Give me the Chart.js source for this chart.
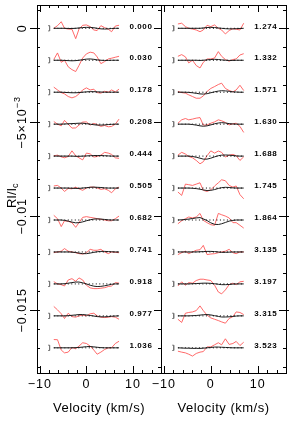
<!DOCTYPE html>
<html>
<head>
<meta charset="utf-8">
<script src="https://cdn.jsdelivr.net/npm/chart.js@4/dist/chart.umd.min.js"></script>
<style>
    html, body { margin: 0; padding: 0; background: #fff; }
    #wrap { position: relative; width: 294px; height: 424px; }
    canvas { position: absolute; left: 0; top: 0; }
</style>
</head>
<body>
<div id="wrap">
    <canvas id="leftChart" width="294" height="424"></canvas>
    <canvas id="rightChart" width="294" height="424"></canvas>
</div>
<script>
// velocity grid of the profiles (km/s)
const velocity = [-7.0, -6.2, -5.4, -4.7, -3.9, -3.1, -2.3, -1.6, -0.8, 0, 0.8, 1.6, 2.3, 3.1, 3.9, 4.7, 5.4, 6.2, 7.0];

// rotational phases, top to bottom
const phasesLeft = ['0.000', '0.030', '0.178', '0.208', '0.444', '0.505', '0.682', '0.741', '0.918', '0.977', '1.036'];
const phasesRight = ['1.274', '1.332', '1.571', '1.630', '1.688', '1.745', '1.864', '3.135', '3.197', '3.315', '3.523'];

const shift = 0.0017;      // vertical shift between profiles
const errorBar = 1.4;      // half size of the error bar (1e-4)

// observed profiles, relative to their own zero level (units of 1e-4)
const obsLeft = [
    [0, 1.4, 3.5, 0, -0.4, -0.5, -5.5, -0.5, 1.6, 1.8, 0.9, -0.9, -1.2, 1.4, 0.4, -0.5, -1.8, 1.2, 1.6],
    [0.4, 3.9, -1.1, 0, -3.5, -5, -6, -2.8, 1.2, 3.4, 4.3, 3.9, 1.8, -1.8, -0.7, 0.7, 1.1, 1.6, 2.1],
    [2.7, 1.2, -0.2, -0.9, -2.3, -3.0, -2.3, -0.9, 1.2, 2.3, 1.2, 1.6, -0.2, -0.5, 0.5, 0, 1.2, 0.2, 1.6],
    [1.4, 0, -0.9, 2.0, 0, -2.1, -2.0, -0.5, 1.1, 1.2, -0.5, 0.4, -0.2, -1.2, -0.7, -1.4, -1.2, 0, 2.7],
    [0.2, 0.5, -0.4, -0.9, -0.2, 2.8, 0.2, -0.9, -2.0, 1.6, 1.2, -0.5, -0.2, 0.5, 2.0, 1.6, 0.9, -0.9, -1.2],
    [1.1, 1.4, 0, -1.8, -0.2, -0.4, 0.5, -0.4, -1.2, 0, 0.5, 0.5, 0, -0.7, -0.4, -1.2, -2.5, -0.4, 0.5],
    [2.5, 0.7, -3.5, -0.4, -0.7, -1.4, -3.9, -1.4, 1.4, 1.8, 1.4, 1.1, 0.7, 0.4, 0, -0.4, -0.4, 0.7, 2.1],
    [-0.4, 0, 0.4, 1.8, 0.4, 0, -0.4, -0.9, -1.1, -0.4, 1.4, 0.9, 0.9, 1.4, 0, -0.9, 0, -0.2, -0.4],
    [1.2, 0, -0.4, -1.1, 2.1, 2.8, 1.4, 3.2, 2.1, -0.7, -2.1, -2.5, -2.5, -2.3, -2.0, -1.4, -1.1, 0.7, 0.4],
    [5.0, 3.2, 1.1, -1.4, 1.4, -0.4, -0.7, 0, 0.4, 0, 1.1, 1.4, 0, -0.7, -0.9, -0.7, -0.4, -0.7, -1.8],
    [4.4, 4.3, -1.2, -2.7, -2.3, 0.2, -0.5, 0.9, 2.7, 2.3, 0.9, -1.2, -3.4, -2.3, -0.9, 0, 0, 2.3, 3.5]
];
const obsRight = [
    [2.3, 2.7, 0.9, 0, -0.4, -0.9, -1.8, -0.9, 1.6, 0.9, 1.8, 0, -0.9, -3.0, -1.2, -0.2, -0.5, -0.9, 2.7],
    [2.1, 3.0, 1.8, -1.4, 0, -2.8, -4.1, -1.1, 0.7, 0.7, 1.2, 4.6, 2.1, 0.4, -0.5, 0.4, 0.7, 2.8, 3.5],
    [0.4, -0.2, -0.5, -1.4, -2.3, -3.2, -3.2, -2.0, 0.4, 2.0, 3.0, 4.1, 4.8, 2.0, 0.9, 0.2, 1.2, 3.7, 0.9],
    [0.5, 2.3, 3.0, 2.3, 2.7, 3.2, 3.5, -0.5, -0.4, 0.5, 1.2, 2.3, 1.8, 0.9, -0.4, 0.2, 0.5, -1.2, -4.4],
    [0.5, 2.0, 1.1, -0.2, -0.9, -2.3, -4.1, -3.0, 0.2, 2.8, 1.6, 2.7, 2.0, -0.5, 0.5, 0.9, 0.2, -2.3, -0.4],
    [-2.1, -3.9, 2.1, 1.8, 1.4, 2.1, 2.8, -1.2, -1.8, -0.9, 1.1, 2.8, 4.4, 3.9, 1.4, 0.5, 1.1, -3.5, -5.7],
    [-2.0, -0.4, 0.7, 1.6, 1.1, 1.6, 3.5, -0.2, -1.4, -2.5, -2.8, 3.5, 2.8, 2.1, 1.1, -1.4, -1.4, -2.8, -4.3],
    [-1.4, -0.4, 0.4, -0.9, 0, 0.9, 1.2, 3.5, -1.4, -1.1, -0.9, -0.4, 0, 0.4, 1.4, -0.4, -0.9, 0, 0],
    [-1.1, 1.1, -0.7, 0.7, 0.4, 1.8, 2.5, 2.5, 2.1, 1.8, -0.7, -4.3, -5.3, -3.2, -0.4, 0.4, -0.4, 1.1, 1.4],
    [-1.8, -3.5, 1.4, 1.8, 2.1, 2.8, 5.3, 2.8, 0.4, -1.1, -1.8, -2.5, -3.2, -3.9, -1.4, -0.4, 2.1, 1.8, 0.7],
    [-1.8, -2.3, -2.7, -3.4, -4.4, -3.0, -2.3, -2.0, 0.5, 0.5, 1.6, 2.7, 1.6, 4.8, 1.8, 2.3, 3.4, 1.2, 3.0]
];

// model profiles (units of 1e-4)
const modelLeft = [
    [0, 0, 0, 0, -0.1, -0.1, 0, 0.2, 0.4, 0.5, 0.5, 0.3, 0, -0.3, -0.4, -0.3, -0.1, 0, 0],
    [0, 0, 0, -0.1, -0.2, -0.3, -0.2, 0, 0.3, 0.6, 0.7, 0.5, 0.2, 0, -0.1, -0.1, 0, 0, 0],
    [0, 0, 0, -0.1, -0.2, -0.3, -0.3, -0.2, 0, 0.2, 0.3, 0.3, 0.2, 0.1, 0, 0, 0, 0, 0],
    [0, 0, 0, 0.1, 0.2, 0.3, 0.4, 0.5, 0.5, 0.3, 0, -0.3, -0.5, -0.5, -0.4, -0.2, -0.1, 0, 0],
    [0, 0, 0, 0, 0, 0, -0.1, -0.1, 0, 0.1, 0.2, 0.3, 0.3, 0.3, 0.2, 0.1, 0, 0, 0],
    [0, 0, 0, 0, 0, -0.1, -0.2, -0.2, 0, 0.2, 0.4, 0.5, 0.4, 0.3, 0.1, 0, 0, 0, 0],
    [0, 0, 0, -0.2, -0.6, -1.1, -1.5, -1.4, -1.0, -0.4, 0.1, 0.5, 0.6, 0.5, 0.3, 0.1, 0, 0, 0],
    [0, 0, 0, 0, 0, -0.1, -0.3, -0.6, -0.9, -0.9, -0.6, -0.2, 0.1, 0.3, 0.3, 0.2, 0.1, 0, 0],
    [0, 0, 0, 0.1, 0.4, 0.7, 1.0, 1.0, 0.6, 0, -0.7, -1.2, -1.4, -1.3, -1.0, -0.6, -0.2, 0, 0],
    [0, 0, 0, 0, 0.1, 0.3, 0.5, 0.7, 0.7, 0.5, 0.2, -0.1, -0.4, -0.5, -0.5, -0.4, -0.2, -0.1, 0],
    [0, 0, 0, 0, 0, 0, 0.1, 0.2, 0.4, 0.6, 0.7, 0.5, 0.3, 0.1, 0, 0, 0, 0, 0]
];
const modelRight = [
    [0, 0, 0, 0, 0, 0, 0, 0.2, 0.4, 0.5, 0.4, 0.2, 0, -0.2, -0.3, -0.3, -0.2, -0.1, 0],
    [0, 0, 0, 0, 0, 0, -0.1, 0, 0.2, 0.4, 0.5, 0.4, 0.2, 0, -0.1, -0.1, 0, 0, 0],
    [0, 0, 0, -0.1, -0.3, -0.6, -0.9, -1.0, -0.8, -0.3, 0.2, 0.6, 0.8, 0.7, 0.5, 0.2, 0.1, 0, 0],
    [0, 0, 0, 0, -0.2, -0.5, -0.9, -1.1, -0.9, -0.4, 0.2, 0.6, 0.8, 0.6, 0.3, 0.1, 0, 0, 0],
    [0, 0, 0, 0, -0.2, -0.6, -1.1, -1.6, -1.6, -1.1, -0.4, 0.2, 0.5, 0.6, 0.5, 0.3, 0.1, 0, 0],
    [0, 0, 0, 0, -0.1, -0.3, -0.6, -1.0, -1.3, -1.2, -0.8, -0.2, 0.2, 0.4, 0.3, 0.1, 0, 0, 0],
    [0, 0.1, 0.3, 0.5, 0.8, 1.1, 1.3, 0.6, -0.3, -1.5, -2.3, -2.4, -2.0, -1.3, -0.6, -0.2, 0, 0, 0],
    [0, 0, 0, 0, 0, 0, 0.1, 0.2, 0.3, 0.3, 0.2, 0, -0.2, -0.2, -0.1, 0, 0, 0, 0],
    [0, 0, 0, 0, 0.1, 0.2, 0.3, 0.4, 0.4, 0.3, 0.1, -0.2, -0.4, -0.4, -0.3, -0.1, 0, 0, 0],
    [0, 0, 0, 0, 0.1, 0.2, 0.4, 0.6, 0.7, 0.5, 0.1, -0.3, -0.6, -0.6, -0.5, -0.3, -0.1, 0, 0],
    [0, -0.1, -0.2, -0.2, -0.3, -0.3, -0.3, -0.2, 0, 0.2, 0.4, 0.4, 0.3, 0.2, 0.1, 0, 0, 0, 0]
];

const xTicks = [-10, 0, 10];
const xTickLabels = ['\u221210', '0', '10'];
const yTicks = [0, -0.005, -0.01, -0.015];
const yTickLabels = ['0', '\u22125\u00d710', '\u22120.01', '\u22120.015'];

const xMin = -10.6, xMax = 16.0;
const yMax = 0.00124, yMin = -0.01834;
const FONT = '"Liberation Sans", Arial, sans-serif';

function buildDatasets(obs, model) {
    const sets = [];
    obs.forEach(function (prof, k) {
        const base = -k * shift;
        sets.push({
            data: velocity.map((v, i) => ({ x: v, y: base + model[k][i] * 1e-4 })),
            borderColor: '#1a1a1a', borderWidth: 1, showLine: true, pointRadius: 0, order: 1
        });
        sets.push({
            data: [{ x: velocity[0], y: base }, { x: velocity[velocity.length - 1], y: base }],
            borderColor: '#000', borderWidth: 1, borderDash: [1, 2.5], showLine: true, pointRadius: 0, order: 2
        });
        sets.push({
            data: prof.map((p, i) => ({ x: velocity[i], y: base + p * 1e-4 })),
            borderColor: 'rgba(255, 80, 80, 0.85)', borderWidth: 1, showLine: true, pointRadius: 0, order: 3
        });
        sets.push({
            data: [{ x: -7.9, y: base + errorBar * 1e-4 }, { x: -7.9, y: base - errorBar * 1e-4 }],
            borderColor: '#777', borderWidth: 1, showLine: true,
            pointStyle: 'dash', pointRadius: 1.5, pointRotation: 180, pointBorderColor: '#777', order: 1
        });
    });
    return sets;
}

// frame, ticks and all axis texts
const framePlugin = {
    id: 'frame',
    afterDraw(chart, args, opts) {
        const { ctx, chartArea: a } = chart;
        const xs = chart.scales.x, ys = chart.scales.y;
        ctx.save();
        ctx.strokeStyle = '#000';
        ctx.lineWidth = 1;
        ctx.strokeRect(a.left + 0.5, a.top + 0.5, a.right - a.left, a.bottom - a.top);

        ctx.beginPath();
        for (let i = -18; i <= 1; i++) {
            const py = Math.round(ys.getPixelForValue(i * 0.001)) + 0.5;
            const major = i % 5 === 0;
            if (opts.leftTicks) {
                ctx.moveTo(a.left - (major ? 7 : 0), py);
                ctx.lineTo(a.left + 3, py);
            }
            ctx.moveTo(a.right + (major && !opts.leftTicks ? 3 : 0), py);
            ctx.lineTo(a.right - (major ? 7 : 3), py);
        }
        for (let v = -10; v <= 16; v += 2) {
            const px = Math.round(xs.getPixelForValue(v)) + 0.5;
            const len = v % 10 === 0 ? 7 : 3;
            ctx.moveTo(px, a.top); ctx.lineTo(px, a.top + len);
            ctx.moveTo(px, a.bottom); ctx.lineTo(px, a.bottom - len);
        }
        ctx.stroke();

        ctx.fillStyle = '#000';
        // x tick labels
        ctx.font = '12.5px ' + FONT;
        ctx.textAlign = 'center';
        ctx.textBaseline = 'middle';
        ctx.letterSpacing = '1px';
        xTicks.forEach(function (v, i) {
            ctx.fillText(xTickLabels[i], xs.getPixelForValue(v), 385);
        });
        // x title
        ctx.letterSpacing = '0.5px';
        ctx.font = '13px ' + FONT;
        ctx.fillText('Velocity (km/s)', (a.left + a.right) / 2, 408);

        // phase labels
        ctx.letterSpacing = '0.6px';
        ctx.font = 'bold 8px ' + FONT;
        opts.phases.forEach(function (ph, k) {
            ctx.fillText(ph, xs.getPixelForValue(11.7), ys.getPixelForValue(-k * shift) - 2);
        });
        ctx.letterSpacing = '0px';

        if (opts.leftTicks) {
            // y tick labels, rotated
            yTicks.forEach(function (v, i) {
                const py = ys.getPixelForValue(v);
                ctx.save();
                ctx.translate(23, py);
                ctx.rotate(-Math.PI / 2);
                ctx.letterSpacing = '1px';
                ctx.font = '12.5px ' + FONT;
                if (i === 1) {
                    const main = yTickLabels[i];
                    const w1 = ctx.measureText(main).width;
                    ctx.font = '9px ' + FONT;
                    const w2 = ctx.measureText('\u22123').width;
                    const start = -(w1 + w2) / 2;
                    ctx.textAlign = 'left';
                    ctx.font = '12.5px ' + FONT;
                    ctx.fillText(main, start, 0);
                    ctx.font = '9px ' + FONT;
                    ctx.fillText('\u22123', start + w1, -5);
                } else {
                    ctx.fillText(yTickLabels[i], 0, 0);
                }
                ctx.restore();
            });
            // y title
            ctx.save();
            ctx.translate(12, 195);
            ctx.rotate(-Math.PI / 2);
            ctx.font = '13px ' + FONT;
            const t1 = 'RI/I';
            const w = ctx.measureText(t1).width;
            ctx.textAlign = 'left';
            ctx.fillText(t1, -(w + 6) / 2, 0);
            ctx.font = '9px ' + FONT;
            ctx.fillText('c', -(w + 6) / 2 + w, 4);
            ctx.restore();
        }
        ctx.restore();
    }
};

function makeChart(canvasId, obs, model, phases, padding, leftTicks) {
    const ctx = document.getElementById(canvasId).getContext('2d');
    return new Chart(ctx, {
        type: 'scatter',
        data: { datasets: buildDatasets(obs, model) },
        options: {
            responsive: false,
            animation: false,
            devicePixelRatio: 1,
            layout: { padding: padding },
            elements: { line: { tension: 0 } },
            plugins: {
                legend: { display: false },
                tooltip: { enabled: false },
                frame: { phases: phases, leftTicks: leftTicks }
            },
            scales: {
                x: { type: 'linear', min: xMin, max: xMax, display: false },
                y: { type: 'linear', min: yMin, max: yMax, display: false }
            }
        },
        plugins: [framePlugin]
    });
}

makeChart('leftChart', obsLeft, modelLeft, phasesLeft, { left: 37, right: 133, top: 5, bottom: 51 }, true);
makeChart('rightChart', obsRight, modelRight, phasesRight, { left: 161, right: 8, top: 5, bottom: 51 }, false);
</script>
</body>
</html>
